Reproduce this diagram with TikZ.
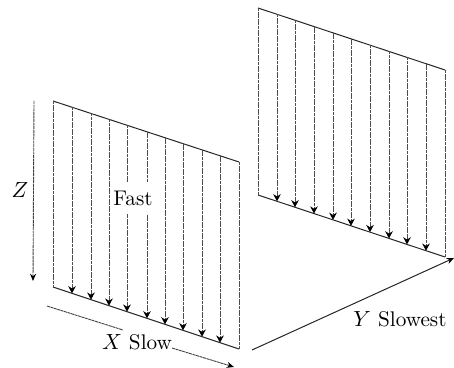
\documentclass[tikz,border=0pt]{standalone}
\usetikzlibrary{arrows.meta}
\tikzset{
  edgeline/.style={line width=0.5pt,black!85},
  sideline/.style={line width=0.4pt,black!70,dash pattern=on 1.5pt off 0.3pt},
  flow/.style={line width=0.4pt,black!70,dash pattern=on 1.5pt off 0.3pt,-{Stealth[length=3.6pt,width=3.8pt,black]}},
  axisline/.style={line width=0.45pt,black!75,dash pattern=on 1.5pt off 0.3pt},
  axisarrow/.style={line width=0.45pt,black!75,dash pattern=on 1.5pt off 0.3pt,-{Stealth[length=3.6pt,width=3pt,black]}},
  yaxis/.style={line width=0.5pt,black!85,-{Stealth[length=3.6pt,width=3pt,black]}},
  lab/.style={inner sep=0pt,font=\fontsize{10.6}{12}\selectfont}
}
\begin{document}
\begin{tikzpicture}[x=0.5pt,y=-0.5pt]
\useasboundingbox (0,0) rectangle (454,368);
% left panel
\coordinate (ltl) at (53,101);
\coordinate (ltr) at (239,162);
\coordinate (lbl) at (53,287);
\coordinate (lbr) at (239,349);
\draw[edgeline] (ltl) -- (ltr);
\draw[edgeline] (lbl) -- (lbr);
\draw[sideline] (ltl) -- (lbl);
\draw[sideline] (ltr) -- (lbr);
\foreach \i/\x in {1/72,2/91,3/109,4/127,5/147,6/165,7/183,8/202,9/220}{
  \pgfmathsetmacro{\yt}{101+(\x-53)*61/186}
  \pgfmathsetmacro{\yb}{287+(\x-53)*62/186}
  \coordinate (la\i) at (\x,\yt);
  \coordinate (lb\i) at (\x,\yb);
  \draw[flow] (la\i) -- (lb\i);
}
\node[lab,fill=white,minimum width=22pt,minimum height=16pt] (fast) at (133,198) {Fast};
% right panel
\coordinate (rtl) at (258,8);
\coordinate (rtr) at (445,70);
\coordinate (rbl) at (258,195);
\coordinate (rbr) at (445,257);
\draw[edgeline] (rtl) -- (rtr);
\draw[edgeline] (rbl) -- (rbr);
\draw[sideline] (rtl) -- (rbl);
\draw[sideline] (rtr) -- (rbr);
\foreach \i/\x in {1/277,2/295,3/314,4/333,5/351,6/370,7/389,8/407,9/426}{
  \pgfmathsetmacro{\yt}{8+(\x-258)*62/187}
  \pgfmathsetmacro{\yb}{195+(\x-258)*62/187}
  \coordinate (ra\i) at (\x,\yt);
  \coordinate (rb\i) at (\x,\yb);
  \draw[flow] (ra\i) -- (rb\i);
}
% axes
\coordinate (zs) at (34,101);
\coordinate (ze) at (33,281);
\draw[axisarrow] (zs) -- (ze);
\node[lab] (zlab) at (20,190) {$Z$};
\coordinate (xs) at (47,306);
\coordinate (xm) at (123,330);
\coordinate (xn) at (172,348);
\coordinate (xe) at (234,367);
\draw[axisline] (xs) -- (xm);
\draw[axisarrow] (xn) -- (xe);
\node[lab] (xlab) at (137,342) {$X$ Slow};
\coordinate (ys) at (252,350);
\coordinate (ye) at (454,258);
\draw[yaxis] (ys) -- (ye);
\node[lab] (ylab) at (400,319) {$Y$ Slowest};
\end{tikzpicture}
\end{document}
